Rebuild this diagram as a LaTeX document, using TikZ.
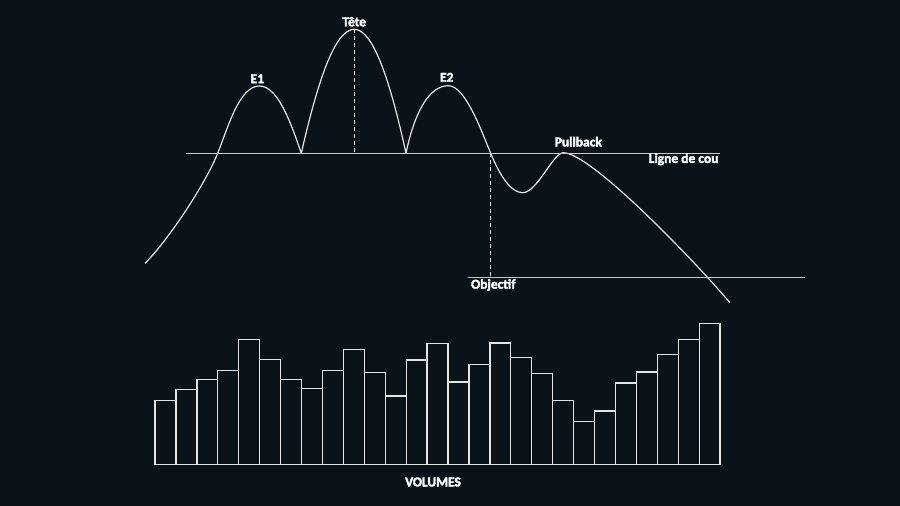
\documentclass[tikz,border=0pt]{standalone}
\usepackage{fontspec}
\setmainfont{Carlito}[BoldFeatures={FakeBold=2.5}]
\usepackage{tikz}
\definecolor{fond}{HTML}{0B1219}
\definecolor{trait}{HTML}{E4E4E4}
\definecolor{ligne}{HTML}{C8C8C8}
\tikzset{cours/.style={trait, line width=1.2pt, line join=round},
         horiz/.style={ligne, line width=1.1pt},
         tirets/.style={trait, line width=0.9pt, dash pattern=on 4pt off 3pt},
         barre/.style={trait, line width=1.3pt},
         etiq/.style={white, font=\fontsize{13.5}{16}\selectfont\bfseries, inner sep=0pt}}

\begin{document}
\begin{tikzpicture}[x=1pt, y=-1pt]
\fill[fond] (0,0) rectangle (900,506);
\useasboundingbox (0,0) rectangle (900,506);
% La figure tete-epaules:
\coordinate (depart) at (145,263.3);
\coordinate (x1) at (217.7,153.3);
\coordinate (e1) at (259.3,86);
\coordinate (v1) at (301.3,153.3);
\coordinate (tete) at (354.3,29.3);
\coordinate (v2) at (406,153.3);
\coordinate (e2) at (448.3,85.7);
\coordinate (cassure) at (490.7,153.3);
\coordinate (creux) at (522.7,192.7);
\coordinate (pull) at (563.3,152.7);
\coordinate (fin) at (730,302.7);
\draw[cours] (depart) .. controls (169,239.3) and (205.7,183.3) .. (x1)
  .. controls (227.7,128.3) and (239.3,86) .. (e1)
  .. controls (277.3,86) and (290,120) .. (v1)
  .. controls (318,80) and (335,29.3) .. (tete)
  .. controls (373,29.3) and (390,80) .. (v2)
  .. controls (415,110) and (430,85.7) .. (e2)
  .. controls (465,85.7) and (480.7,129) .. (cassure)
  .. controls (499.7,175.2) and (510.7,192.7) .. (creux)
  .. controls (537,192.7) and (553,153) .. (pull)
  .. controls (590,152.7) and (690,255.9) .. (fin);
% Ligne de cou et objectif:
\coordinate (cougauche) at (186,153.5);
\coordinate (coudroite) at (720,153.5);
\coordinate (objgauche) at (468.3,277.3);
\coordinate (objdroite) at (805,277.3);
\draw[horiz] (cougauche) -- (coudroite);
\draw[horiz] (objgauche) -- (objdroite);
\coordinate (tetebas) at (354.3,153.5);
\coordinate (cible) at (490.7,277.3);
\draw[tirets] (tete) -- (tetebas);
\draw[tirets] (cassure) -- (cible);
\node[etiq] (ltete) at (354.3,21.7) {Tête};
\node[etiq] (le1) at (257.3,78.7) {E1};
\node[etiq] (le2) at (446.7,77.3) {E2};
\node[etiq] (lpull) at (578.3,141.7) {Pullback};
\node[etiq] (lcou) at (683.6,159.3) {Ligne de cou};
\node[etiq] (lobj) at (493.3,285) {Objectif};
% Les volumes:
\foreach \h [count=\i] in {64,74.7,84.7,94,124.7,105,84.7,76,94,114.7,91.7,68.3,104.3,120.7,82.3,100,121.3,106.7,90.7,63.7,43,53.3,81.3,92.3,110,124.7,140.7}
  \draw[barre] ({155+(\i-1)*20.93},464.3) rectangle ++(20.93,-\h);
\node[etiq] (lvol) at (433,482) {VOLUMES};
\end{tikzpicture}
\end{document}
